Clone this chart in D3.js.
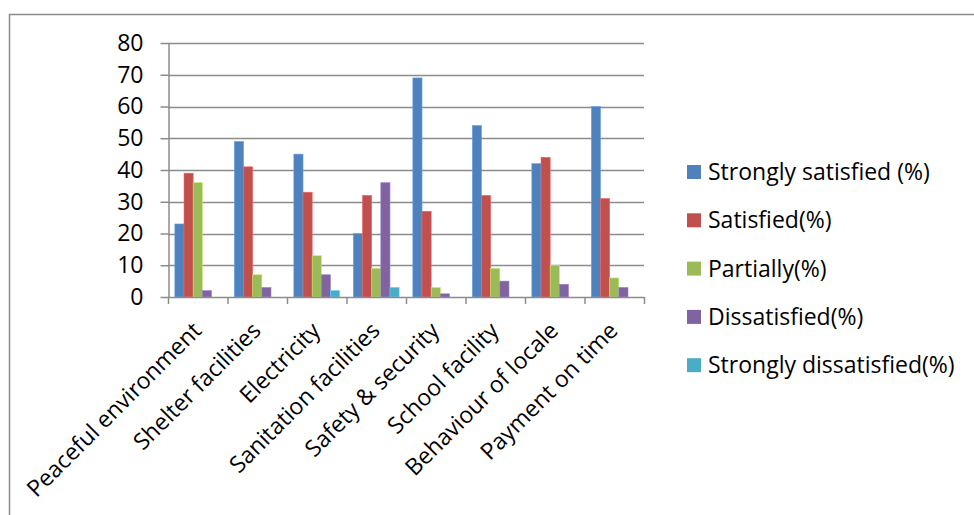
<!DOCTYPE html>
<html>
<head>
<meta charset="utf-8">
<script src="https://cdn.jsdelivr.net/npm/d3@7"></script>
<style>
  html, body { margin: 0; padding: 0; background: #fff; }
  svg { display: block; font-family: "Open Sans", sans-serif; }
</style>
</head>
<body>
<svg id="chart" width="974" height="515"></svg>
<script>
// Satisfaction survey results by facility, in percent
const categories = [
  "Peaceful environment", "Shelter facilities", "Electricity", "Sanitation facilities",
  "Safety & security", "School facility", "Behaviour of locale", "Payment on time"
];
const seriesNames = [
  "Strongly satisfied (%)", "Satisfied(%)", "Partially(%)", "Dissatisfied(%)", "Strongly dissatisfied(%)"
];
const stronglySatisfied    = [23, 49, 45, 20, 69, 54, 42, 60];
const satisfied            = [39, 41, 33, 32, 27, 32, 44, 31];
const partially            = [36,  7, 13,  9,  3,  9, 10,  6];
const dissatisfied         = [ 2,  3,  7, 36,  1,  5,  4,  3];
const stronglyDissatisfied = [ 0,  0,  2,  3,  0,  0,  0,  0];
const yTicks = [0, 10, 20, 30, 40, 50, 60, 70, 80];

const seriesValues = [stronglySatisfied, satisfied, partially, dissatisfied, stronglyDissatisfied];
const colors = ["#4F81BD", "#C0504D", "#9BBB59", "#8064A2", "#4BACC6"];
const FONT = 23;

const svg = d3.select("#chart");

// chart-area frame
svg.append("rect")
  .attr("x", 9.5).attr("y", 14.5)
  .attr("width", 1000).attr("height", 600)
  .attr("fill", "none").attr("stroke", "#8a8a8a").attr("stroke-width", 1.5);

const plot = { left: 168, right: 644, top: 43, bottom: 297 };

const x = d3.scaleBand().domain(categories).range([plot.left, plot.right]);
const y = d3.scaleLinear().domain([0, 80]).range([plot.bottom, plot.top]);

// five bars per category, with a 0.75-bar gap on each side
const barW = x.bandwidth() / 6.5;
const barX = (ci, si) => x(categories[ci]) + barW * (0.75 + si);

// horizontal gridlines
svg.append("g")
  .selectAll("line")
  .data(yTicks.filter(t => t > 0))
  .join("line")
  .attr("x1", plot.left).attr("x2", plot.right)
  .attr("y1", d => Math.round(y(d)) + 0.5).attr("y2", d => Math.round(y(d)) + 0.5)
  .attr("stroke", "#8c8c8c").attr("stroke-width", 1.5);

// bars
seriesValues.forEach((vals, si) => {
  svg.append("g")
    .selectAll("rect")
    .data(vals)
    .join("rect")
    .attr("x", (d, ci) => barX(ci, si))
    .attr("width", barW)
    .attr("y", d => y(d))
    .attr("height", d => y(0) - y(d))
    .attr("fill", colors[si])
    .attr("stroke", d3.color(colors[si]).brighter(0.6))
    .attr("stroke-width", 0.6);
});

// y axis
const yAxis = d3.axisLeft(y).tickValues(yTicks).tickSize(8).tickPadding(17).tickSizeOuter(0);
const gy = svg.append("g").attr("transform", `translate(${plot.left + 0.5},0)`).call(yAxis);
gy.select(".domain").attr("stroke", "#8c8c8c").attr("stroke-width", 1.5);
gy.selectAll(".tick line").attr("stroke", "#8c8c8c").attr("stroke-width", 1.5);
gy.selectAll(".tick text").attr("font-size", FONT).attr("font-family", "'Open Sans', sans-serif").attr("fill", "#000");

// x axis baseline and category boundary ticks
const gx = svg.append("g");
gx.append("line")
  .attr("x1", plot.left).attr("x2", plot.right)
  .attr("y1", plot.bottom + 0.5).attr("y2", plot.bottom + 0.5)
  .attr("stroke", "#8c8c8c").attr("stroke-width", 1.5);
gx.selectAll("line.b")
  .data(d3.range(categories.length + 1))
  .join("line").attr("class", "b")
  .attr("x1", i => plot.left + i * x.bandwidth() + 0.5)
  .attr("x2", i => plot.left + i * x.bandwidth() + 0.5)
  .attr("y1", plot.bottom).attr("y2", plot.bottom + 7)
  .attr("stroke", "#8c8c8c").attr("stroke-width", 1.5);

// rotated category labels
gx.selectAll("text")
  .data(categories)
  .join("text")
  .attr("transform", d => `translate(${x(d) + x.bandwidth() / 2 + 5},${plot.bottom + 35}) rotate(-45)`)
  .attr("text-anchor", "end")
  .attr("font-size", FONT)
  .attr("fill", "#000")
  .text(d => d);

// legend
const legend = svg.append("g");
seriesNames.forEach((name, i) => {
  const cy = 172 + i * 48.3;
  legend.append("rect")
    .attr("x", 687).attr("y", cy - 7).attr("width", 14).attr("height", 14)
    .attr("fill", colors[i]);
  legend.append("text")
    .attr("x", 708).attr("y", cy).attr("dy", "0.35em")
    .attr("font-size", FONT).attr("fill", "#000")
    .text(name);
});
</script>
</body>
</html>
